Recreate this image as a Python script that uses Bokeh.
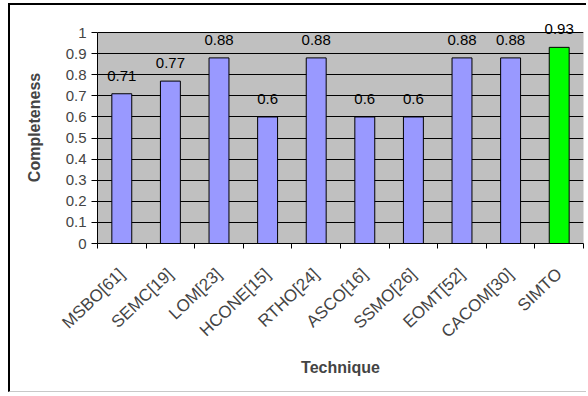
from bokeh.plotting import figure
from bokeh.models import (ColumnDataSource, LabelSet, LinearAxis,
                          Range1d, FixedTicker, BoxAnnotation)
from bokeh.core.properties import value
from bokeh.embed import file_html
from bokeh.resources import INLINE

techniques = ["MSBO[61]", "SEMC[19]", "LOM[23]", "HCONE[15]", "RTHO[24]",
              "ASCO[16]", "SSMO[26]", "EOMT[52]", "CACOM[30]", "SIMTO"]
completeness = [0.71, 0.77, 0.88, 0.6, 0.88, 0.6, 0.6, 0.88, 0.88, 0.93]
bar_colors = ["#9999FF"] * 9 + ["#00FF00"]
y_ticks = [0, 0.1, 0.2, 0.3, 0.4, 0.5, 0.6, 0.7, 0.8, 0.9, 1.0]
y_tick_labels = ["0", "0.1", "0.2", "0.3", "0.4", "0.5", "0.6", "0.7", "0.8", "0.9", "1"]

FONT = "Liberation Sans"

n = len(techniques)
centers = [i + 0.5 for i in range(n)]
edges = list(range(n + 1))

src = ColumnDataSource(dict(
    x=centers,
    y=completeness,
    color=bar_colors,
    label=[str(v) for v in completeness],
))

# headroom above the value axis so the data labels are not clipped
p = figure(width=578, height=389, x_range=Range1d(0, n), y_range=Range1d(0, 1.1),
           output_backend="svg", toolbar_location=None,
           x_axis_location=None, y_axis_location=None,
           min_border_left=87, min_border_right=5, min_border_top=6, min_border_bottom=151)

p.background_fill_color = "white"
p.border_fill_color = "white"
p.outline_line_color = None
p.styles = {"border-top": "2px solid black", "border-left": "2px solid black",
            "border-bottom": "1px solid #C8C8C8",
            "margin-top": "3px", "margin-left": "8px"}

# gray plot area spanning the value axis 0..1
plot_area = BoxAnnotation(bottom=y_ticks[0], top=y_ticks[-1], fill_color="#C0C0C0",
                          fill_alpha=1.0, line_color="#808080", line_width=1,
                          level="image")
p.add_layout(plot_area)

p.vbar(x="x", top="y", width=0.41, source=src, fill_color="color",
       line_color="black", line_width=1)

labels = LabelSet(x="x", y="y", text="label", source=src, text_align="center",
                  text_baseline="alphabetic", y_offset=13, text_font=value(FONT),
                  text_font_size="15px", text_color="black")
p.add_layout(labels)

# y axis
yaxis = LinearAxis(ticker=FixedTicker(ticks=y_ticks), axis_label="Completeness",
                   bounds=(y_ticks[0], y_ticks[-1]))
yaxis.major_label_overrides = {t: l for t, l in zip(y_ticks, y_tick_labels)}
yaxis.axis_label_text_font = FONT
yaxis.axis_label_text_font_style = "bold"
yaxis.axis_label_text_font_size = "16px"
yaxis.axis_label_standoff = 20
yaxis.major_label_text_font = FONT
yaxis.major_label_text_font_size = "15px"
yaxis.major_label_standoff = 5
yaxis.major_tick_out = 6
yaxis.major_tick_in = 0
yaxis.minor_tick_line_color = None
yaxis.axis_line_color = "black"
yaxis.major_tick_line_color = "black"
p.add_layout(yaxis, "left")

# x tick marks at category boundaries
edge_axis = LinearAxis(ticker=FixedTicker(ticks=edges))
edge_axis.major_tick_out = 5
edge_axis.major_tick_in = 0
edge_axis.minor_tick_line_color = None
edge_axis.major_label_text_font_size = "0px"
edge_axis.major_label_text_color = None
edge_axis.major_label_standoff = 0
edge_axis.axis_line_color = "black"
p.add_layout(edge_axis, "below")

# category labels at centers
cat_axis = LinearAxis(ticker=FixedTicker(ticks=centers), axis_label="Technique")
cat_axis.major_label_overrides = {c: t for c, t in zip(centers, techniques)}
cat_axis.axis_line_color = None
cat_axis.major_tick_line_color = None
cat_axis.minor_tick_line_color = None
cat_axis.major_label_orientation = 0.76
cat_axis.major_label_text_font = FONT
cat_axis.major_label_text_font_size = "17px"
cat_axis.major_label_standoff = 17
cat_axis.axis_label_text_font = FONT
cat_axis.axis_label_text_font_style = "bold"
cat_axis.axis_label_text_font_size = "16px"
cat_axis.axis_label_standoff = 8
p.add_layout(cat_axis, "below")

p.xgrid.visible = False
p.ygrid.grid_line_color = "black"
p.ygrid.grid_line_width = 1
p.ygrid.ticker = FixedTicker(ticks=y_ticks)

open("out.html", "w").write(file_html(p, INLINE))
